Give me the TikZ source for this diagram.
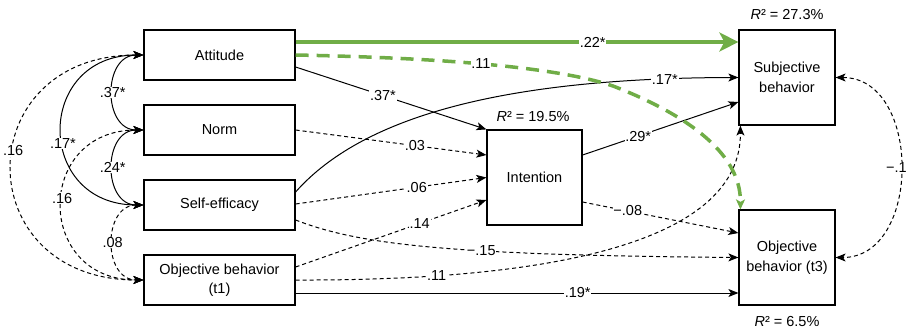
\documentclass[tikz,border=0pt]{standalone}
\usepackage{fontspec}
\setmainfont{Liberation Sans}
\usetikzlibrary{arrows.meta}
\definecolor{grn}{RGB}{112,173,71}
\begin{document}
\begin{tikzpicture}[x=1pt,y=-1pt,
  font=\fontsize{14.5}{19.5}\selectfont,
  box/.style={draw, line width=1.2pt, minimum width=151pt, minimum height=50pt, inner sep=0pt, align=center},
  sq/.style={draw, line width=1.2pt, minimum width=96pt, minimum height=95pt, inner sep=0pt, align=center},
  tip/.tip={Stealth[length=10pt,width=8pt,inset=2.5pt]},
  arr/.style={line width=1pt, -tip},
  dsh/.style={arr, dash pattern=on 4pt off 3pt},
  biarr/.style={line width=1pt, tip-tip},
  bidsh/.style={biarr, dash pattern=on 4pt off 3pt},
  garr/.style={draw=grn, line width=3.5pt, -{Stealth[length=19pt,width=19pt,inset=5pt]}},
  gdsh/.style={draw=grn, line width=3.5pt, dash pattern=on 13pt off 8pt, -{Stealth[length=10pt,width=9pt,inset=2.5pt]}},
  lab/.style={fill=white, inner sep=0.8pt}
]
\useasboundingbox (0,0) rectangle (906,330);

% boxes
\node[box] (att)  at (219.5,55)  {Attitude};
\node[box] (norm) at (219.5,130) {Norm};
\node[box] (self) at (219.5,205) {Self-efficacy};
\node[box] (ob1)  at (219.5,280) {Objective behavior\\(t1)};
\node[sq, minimum width=95pt] (int) at (534.5,177.5) {Intention};
\node[sq] (subj) at (787,77.5)  {Subjective\\behavior};
\node[sq] (ob3)  at (787,257.5) {Objective\\behavior (t3)};

% R^2 labels
\node (r1) at (787,15)  {\textit{R}² = 27.3\%};
\node (r2) at (533,117) {\textit{R}² = 19.5\%};
\node (r3) at (787,322) {\textit{R}² = 6.5\%};

% left covariances
\draw[biarr] (att.west) to[out=180,in=180,looseness=1.4] node[lab]{.37*} (norm.west);
\draw[biarr] (norm.west) to[out=180,in=180,looseness=1.4] node[lab]{.24*} (self.west);
\draw[biarr] (att.west) to[out=180,in=180,looseness=1.86] node[lab,pos=0.56]{.17*} (self.west);
\draw[bidsh] (att.west) to[out=180,in=180,looseness=2.0] node[lab,pos=0.45]{.16} (ob1.west);
\draw[bidsh] (norm.west) to[out=180,in=180,looseness=1.86] node[lab,pos=0.47]{.16} (ob1.west);
\draw[bidsh] (self.west) to[out=180,in=180,looseness=1.4] node[lab]{.08} (ob1.west);

% right covariance
\draw[bidsh] (subj.east) to[out=0,in=0,looseness=1.23] node[lab]{−.14} (ob3.east);

% paths to intention
\draw[arr] ([yshift=-12pt]att.east) -- node[lab,pos=0.458]{.37*} (int.north west);
\draw[dsh] (norm.east) -- node[lab,pos=0.625]{.03} ([yshift=22.5pt]int.west);
\draw[dsh] ([yshift=1pt]self.east) -- node[lab,pos=0.635]{.06} (int.west);
\draw[dsh] ([yshift=13pt]ob1.east) -- node[lab,pos=0.65]{.14} ([yshift=-22.5pt]int.west);

% paths to outcomes
\draw[arr] ([yshift=13pt]self.east) .. controls (355,125) and (480,78) .. node[lab,pos=0.9]{.17*} (subj.west);
\draw[dsh] ([yshift=-15pt]self.east) .. controls (360,245) and (450,255) .. node[lab,pos=0.61]{−.15} (ob3.west);
\draw[dsh] (ob1.east) .. controls (560,281) and (741,240) .. node[lab,pos=0.19]{.11} ([xshift=2pt]subj.south west);
\draw[arr] ([yshift=-13pt]ob1.east) -- node[lab,pos=0.637]{.19*} ([yshift=-35.5pt]ob3.west);
\draw[arr] ([yshift=22.5pt]int.east) -- node[lab,pos=0.357]{.29*} ([yshift=-24.5pt]subj.west);
\draw[dsh] ([yshift=-24.5pt]int.east) -- node[lab,pos=0.29]{−.08} ([yshift=24.5pt]ob3.west);

% green paths
\draw[gdsh] (att.east) .. controls (450,58) and (560,68) .. (613,86) node[lab,pos=0.465,text=black]{.11}
   .. controls (680,112) and (741,150) .. ([xshift=2pt]ob3.north west);
\draw[garr] ([yshift=13pt]att.east) -- node[lab,pos=0.671,text=black]{.22*} ([yshift=35.5pt]subj.west);
\end{tikzpicture}
\end{document}
